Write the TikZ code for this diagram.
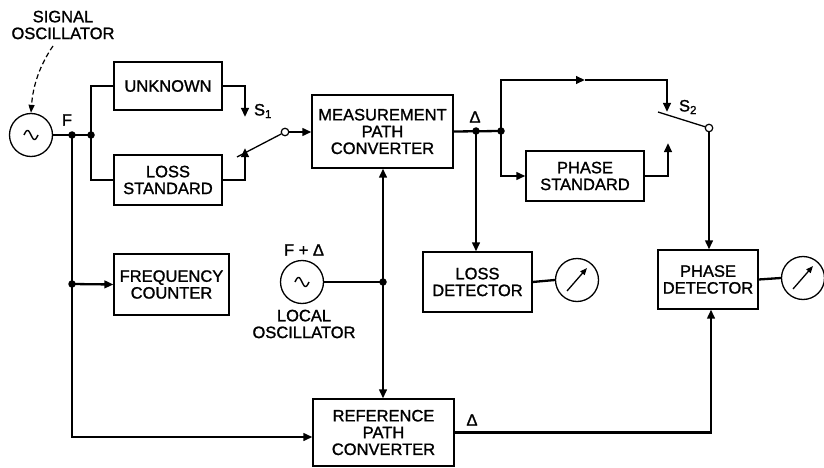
\documentclass[tikz,border=0pt]{standalone}
\usepackage{fontspec}
\setmainfont{Liberation Sans}[FakeBold=1.3]
\usetikzlibrary{arrows.meta,calc}
\newcommand\dfont{\fontsize{16.5}{16.8}\selectfont}
\begin{document}
\begin{tikzpicture}[x=1pt,y=-1pt,
  box/.style={draw, line width=1.1pt, align=center, inner sep=0pt, font=\dfont},
  lab/.style={inner sep=0pt, align=center, font=\dfont},
  wire/.style={line width=2.3pt},
  arr/.style={wire, -{Triangle[length=9pt,width=7.5pt]}},
  osc/.style={draw, circle, line width=1.3pt, minimum size=43pt, inner sep=0pt},
  pivot/.style={draw, circle, line width=1.2pt, fill=white, minimum size=7.5pt, inner sep=0pt},
  dot/.style={circle, fill, minimum size=7.5pt, inner sep=0pt},
  sine/.style={line width=1.4pt},
  needle/.style={line width=1.3pt, -{Triangle[length=7pt,width=5.5pt]}}
]
\useasboundingbox (0,0) rectangle (824,468);

% boxes
\node[box, minimum width=108pt, minimum height=48pt] (unknown) at (168,86) {UNKNOWN};
\node[box, minimum width=108pt, minimum height=50pt] (lossstd) at (168,180) {LOSS\\STANDARD};
\node[box, minimum width=141pt, minimum height=73pt] (meas) at (382.5,131.5) {MEASUREMENT\\PATH\\CONVERTER};
\node[box, minimum width=118pt, minimum height=50pt] (phasestd) at (585,176) {PHASE\\STANDARD};
\node[box, minimum width=115pt, minimum height=61pt] (freq) at (171.5,284.5) {FREQUENCY\\COUNTER};
\node[box, minimum width=109pt, minimum height=60pt] (lossdet) at (477.5,282) {LOSS\\DETECTOR};
\node[box, minimum width=100pt, minimum height=59pt] (phasedet) at (708,279.5) {PHASE\\DETECTOR};
\node[box, minimum width=141pt, minimum height=67pt] (ref) at (383.5,432.5) {REFERENCE\\PATH\\CONVERTER};

% oscillators and meters
\node[osc] (sigosc) at (31,135) {};
\node[osc] (locosc) at (302,282) {};
\node[osc] (meter1) at (577,280) {};
\node[osc] (meter2) at (803,278) {};
\foreach \c in {sigosc,locosc}{
  \draw[sine, shift={(\c)}] plot[domain=-180:180,samples=40] ({\x/180*7},{4.5*sin(\x)});
}
\foreach \c in {meter1,meter2}{
  \draw[needle] ($(\c)+(-10,11)$) -- ($(\c)+(10,-12)$);
}

% labels
\node[lab] (siglab) at (63,25) {SIGNAL\\OSCILLATOR};
\node[lab] (flab) at (67,120) {F};
\node[lab] (s1lab) at (263,111) {S\textsubscript{1}};
\node[lab] (d1lab) at (475,117) {Δ};
\node[lab] (s2lab) at (688,107) {S\textsubscript{2}};
\node[lab] (folab) at (304,250) {F + Δ};
\node[lab] (lolab) at (304,324) {LOCAL\\OSCILLATOR};
\node[lab] (d2lab) at (472,420) {Δ};

% junctions and switch points
\node[dot] (jF1) at (72,135) {};
\node[dot] (jF2) at (91,135) {};
\node[dot] (jFC) at (72,284) {};
\node[dot] (jD1) at (476,131) {};
\node[dot] (jD2) at (501,131) {};
\node[dot] (jLO) at (383,282) {};
\coordinate (s1a) at (245,117);
\coordinate (s1b) at (245,148);
\coordinate (arm1) at (237,157);
\node[pivot] (piv1) at (285,132) {};
\coordinate (topmid) at (585,80);
\coordinate (s2a) at (667,112);
\coordinate (s2b) at (668,143);
\coordinate (arm2) at (658,112);
\node[pivot] (piv2) at (709,128) {};
\coordinate (dashstart) at (53,46);

% dashed pointer
\draw[line width=1.2pt, dash pattern=on 5pt off 3pt, -{Triangle[length=8pt,width=6pt]}]
  (dashstart) .. controls (40,65) and (33,85) .. (sigosc.north);

% connectors
\draw[wire] (sigosc.east) -- (jF2.center);
\draw[wire] (unknown.west) -| (jF2.center) |- (lossstd.west);
\draw[arr] (unknown.east) -| (s1a);
\draw[arr] (lossstd.east) -| (s1b);
\draw[line width=1.3pt] (arm1) -- (piv1);
\draw[arr] (piv1) -- (piv1 -| meas.west);
\draw[wire] (meas.east) -- (jD2.center);
\draw[arr] (jD2.center) |- (topmid);
\draw[arr] (topmid) -| (s2a);
\draw[arr] (jD2.center) |- (phasestd.west);
\draw[arr] (phasestd.east) -| (s2b);
\draw[line width=1.3pt] (arm2) -- (piv2);
\draw[arr] (piv2) -- (piv2 |- phasedet.north);
\draw[arr] (jD1.center) -- (jD1 |- lossdet.north);
\draw[wire] (lossdet.east) -- (meter1.west);
\draw[wire] (phasedet.east) -- (meter2.west);
\draw[wire] (jF1.center) -- (jFC.center);
\draw[arr] (jFC.center) -- (freq.west);
\draw[arr] (jFC.center) |- ([yshift=-4.5pt]ref.west);
\draw[wire] (locosc.east) -- (jLO.center);
\draw[arr] (jLO.center) -- (jLO |- meas.south);
\draw[arr] (jLO.center) -- (jLO |- ref.north);
\draw[arr] (ref.east) -| ([xshift=3pt]phasedet.south);
\end{tikzpicture}
\end{document}
